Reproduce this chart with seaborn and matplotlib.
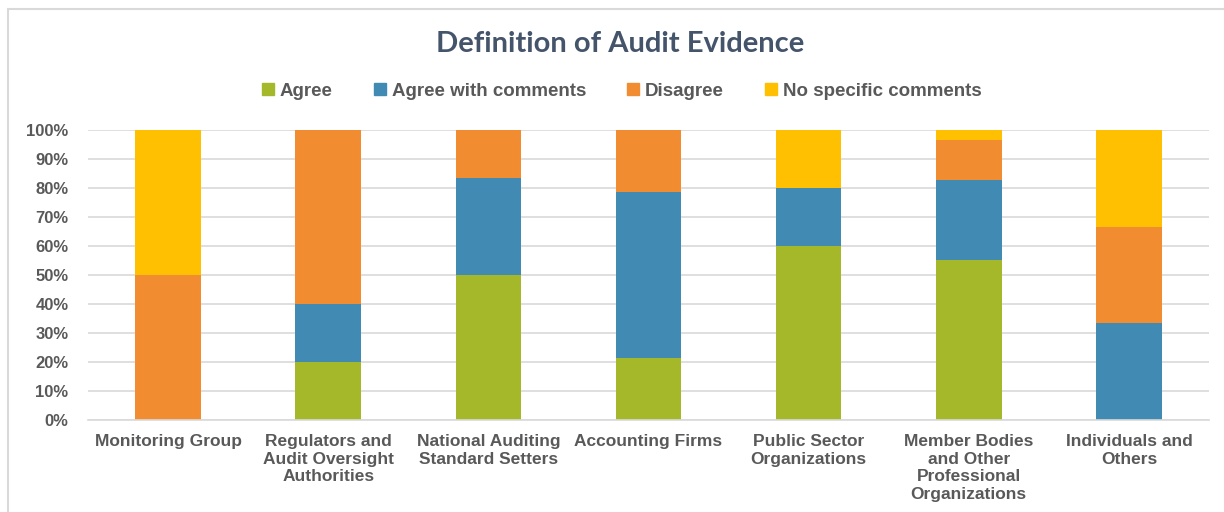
import numpy as np
import pandas as pd
import matplotlib
matplotlib.use("Agg")
import matplotlib.pyplot as plt
import matplotlib.patches as mpatches
import seaborn as sns

# ==========================================
# DATA
# ==========================================

groups = [
    "Monitoring Group",
    "Regulators and\nAudit Oversight\nAuthorities",
    "National Auditing\nStandard Setters",
    "Accounting Firms",
    "Public Sector\nOrganizations",
    "Member Bodies\nand Other\nProfessional\nOrganizations",
    "Individuals and\nOthers",
]

responses = ["Agree", "Agree with comments", "Disagree", "No specific comments"]

agree = [0.0, 20.0, 50.0, 21.4, 60.0, 55.2, 0.0]
agree_comments = [0.0, 20.0, 33.3, 57.1, 20.0, 27.6, 33.3]
disagree = [50.0, 60.0, 16.7, 21.4, 0.0, 13.8, 33.3]
no_comments = [50.0, 0.0, 0.0, 0.0, 20.0, 3.4, 33.4]

colors = ["#A5B82A", "#418AB3", "#F18C31", "#FEC000"]

series = [agree, agree_comments, disagree, no_comments]

# ==========================================
# FIGURE
# ==========================================

sns.set_style("white")
plt.rcParams["font.family"] = ["Liberation Sans", "DejaVu Sans"]

fig = plt.figure(figsize=(12.24, 5.12), dpi=100)
ax = fig.add_axes([88 / 1224, 92 / 512, 1121 / 1224, 290 / 512])

bottom = np.zeros(len(groups))
for name, vals, col in zip(responses, series, colors):
    df = pd.DataFrame({"group": groups, "value": np.array(vals) / 100.0})
    sns.barplot(
        data=df, x="group", y="value", color=col, bottom=bottom,
        width=0.41, saturation=1, ax=ax, linewidth=0,
    )
    bottom = bottom + df["value"].values

if ax.get_legend() is not None:
    ax.get_legend().remove()

ax.set_ylim(0, 1)
ax.set_xlim(-0.5, 6.5)
ax.set_yticks(np.arange(0, 1.01, 0.1))
ax.set_yticklabels([f"{int(round(v * 100))}%" for v in np.arange(0, 1.01, 0.1)])
ax.set_xlabel("")
ax.set_ylabel("")

ax.yaxis.grid(True, color="#D9D9D9", linewidth=1.2)
ax.set_axisbelow(True)
for side in ["top", "right", "left"]:
    ax.spines[side].set_visible(False)
ax.spines["bottom"].set_color("#D9D9D9")
ax.spines["bottom"].set_linewidth(1.2)

ax.tick_params(axis="y", length=0, pad=14, labelsize=12, labelcolor="#595959")
ax.tick_params(axis="x", length=0, pad=10, labelsize=12.5, labelcolor="#595959")
for lab in ax.get_yticklabels() + ax.get_xticklabels():
    lab.set_fontweight("bold")
for lab in ax.get_xticklabels():
    lab.set_linespacing(1.22)
    lab.set_verticalalignment("top")

# ==========================================
# TITLE & LEGEND
# ==========================================

fig.text(
    0.507, 1 - 44 / 512, "Definition of Audit Evidence",
    ha="center", va="center", fontsize=21, fontweight="bold",
    color="#44546A", family=["Lato", "DejaVu Sans"],
)

handles = [mpatches.Patch(color=c, label=n) for n, c in zip(responses, colors)]
fig.legend(
    handles=handles, loc="center", bbox_to_anchor=(0.508, 1 - 91 / 512),
    ncol=4, frameon=False, handlelength=0.65, handleheight=0.65,
    handletextpad=0.3, columnspacing=2.2,
    prop={"size": 13.5, "weight": "bold"}, labelcolor="#595959",
)

# outer chart border
fig.patches.append(mpatches.Rectangle(
    (8 / 1224, -0.02), 1.0, 1.02 - 9 / 512, fill=False,
    edgecolor="#D9D9D9", linewidth=1.5, transform=fig.transFigure,
))

plt.savefig("out.png", dpi=100)
plt.close()
